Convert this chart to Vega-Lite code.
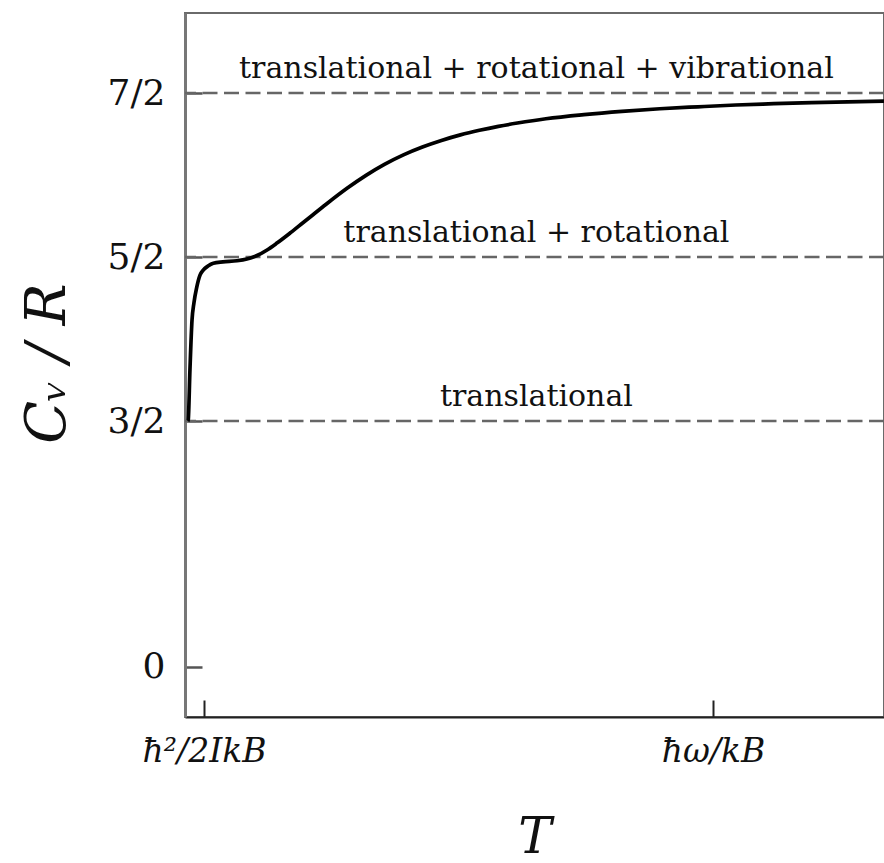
{
  "$schema": "https://vega.github.io/schema/vega-lite/v6.json",
  "width": 699,
  "height": 704,
  "autosize": {"type": "none"},
  "padding": {"left": 185, "top": 13, "right": 0, "bottom": 146},
  "background": "white",
  "config": {
    "font": "DejaVu Serif",
    "view": {"stroke": "#6a6a6a", "strokeWidth": 2}
  },
  "datasets": {
    "curve": [
      {"T": 0.15, "cv": 1.5},
      {"T": 0.17, "cv": 1.506},
      {"T": 0.26, "cv": 1.811},
      {"T": 0.37, "cv": 2.116},
      {"T": 0.47, "cv": 2.22},
      {"T": 0.62, "cv": 2.317},
      {"T": 0.79, "cv": 2.39},
      {"T": 0.96, "cv": 2.42},
      {"T": 1.21, "cv": 2.445},
      {"T": 1.49, "cv": 2.462},
      {"T": 2.0, "cv": 2.47},
      {"T": 2.74, "cv": 2.477},
      {"T": 3.26, "cv": 2.488},
      {"T": 3.79, "cv": 2.509},
      {"T": 4.32, "cv": 2.543},
      {"T": 4.84, "cv": 2.585},
      {"T": 5.53, "cv": 2.646},
      {"T": 6.21, "cv": 2.709},
      {"T": 6.74, "cv": 2.758},
      {"T": 7.53, "cv": 2.831},
      {"T": 8.53, "cv": 2.919},
      {"T": 9.53, "cv": 2.998},
      {"T": 10.5, "cv": 3.065},
      {"T": 11.5, "cv": 3.123},
      {"T": 12.5, "cv": 3.171},
      {"T": 13.5, "cv": 3.211},
      {"T": 14.5, "cv": 3.245},
      {"T": 15.5, "cv": 3.273},
      {"T": 16.5, "cv": 3.297},
      {"T": 17.5, "cv": 3.317},
      {"T": 19.0, "cv": 3.343},
      {"T": 21.0, "cv": 3.368},
      {"T": 23.0, "cv": 3.388},
      {"T": 25.0, "cv": 3.404},
      {"T": 27.0, "cv": 3.416},
      {"T": 29.0, "cv": 3.427},
      {"T": 31.0, "cv": 3.435},
      {"T": 33.0, "cv": 3.442},
      {"T": 36.8, "cv": 3.451}
    ],
    "levels": [
      {"level": 1.5, "label": "translational"},
      {"level": 2.5, "label": "translational + rotational"},
      {"level": 3.5, "label": "translational + rotational + vibrational"}
    ]
  },
  "layer": [
    {
      "data": {"name": "levels"},
      "mark": {"type": "rule", "stroke": "#666666", "strokeWidth": 2.5, "strokeDash": [15, 6.5]},
      "encoding": {
        "y": {
          "field": "level",
          "type": "quantitative",
          "scale": {"domain": [-0.305, 3.988], "nice": false, "zero": false},
          "axis": {
            "values": [0, 1.5, 2.5, 3.5],
            "labelExpr": "datum.value == 0 ? '0' : datum.value == 1.5 ? '3/2' : datum.value == 2.5 ? '5/2' : '7/2'",
            "labelFontSize": 36,
            "labelColor": "#111111",
            "labelPadding": 37,
            "tickSize": -17,
            "tickColor": "#555555",
            "tickWidth": 2.5,
            "domainColor": "#777777",
            "domainWidth": 3,
            "grid": false,
            "title": "Cᵥ / R",
            "titleFontSize": 56,
            "titleFontStyle": "italic",
            "titleFontWeight": "normal",
            "titleColor": "#111111",
            "titleBaseline": "alphabetic",
            "titleX": -121,
            "titleY": 350
          }
        }
      }
    },
    {
      "data": {"name": "levels"},
      "mark": {"type": "text", "fontSize": 30, "color": "#111111", "baseline": "alphabetic", "align": "center", "dy": -15},
      "encoding": {
        "x": {"datum": 18.5, "type": "quantitative"},
        "y": {"field": "level", "type": "quantitative"},
        "text": {"field": "label"}
      }
    },
    {
      "data": {"name": "curve"},
      "mark": {"type": "line", "color": "#000000", "strokeWidth": 3.7, "interpolate": "monotone"},
      "encoding": {
        "x": {
          "field": "T",
          "type": "quantitative",
          "scale": {"domain": [0, 36.8], "nice": false, "zero": false},
          "axis": {
            "values": [1, 27.8],
            "labelExpr": "datum.value == 1 ? 'ħ²/2IkB' : 'ħω/kB'",
            "labelFontSize": 33,
            "labelFontStyle": "italic",
            "labelColor": "#111111",
            "labelPadding": 35,
            "tickSize": -17,
            "tickColor": "#222222",
            "tickWidth": 2,
            "domainColor": "#222222",
            "domainWidth": 2,
            "grid": false,
            "title": "T",
            "titleFontSize": 50,
            "titleFontStyle": "italic",
            "titleFontWeight": "normal",
            "titleColor": "#111111",
            "titleBaseline": "alphabetic",
            "titleY": 135
          }
        },
        "y": {"field": "cv", "type": "quantitative"}
      }
    }
  ]
}
